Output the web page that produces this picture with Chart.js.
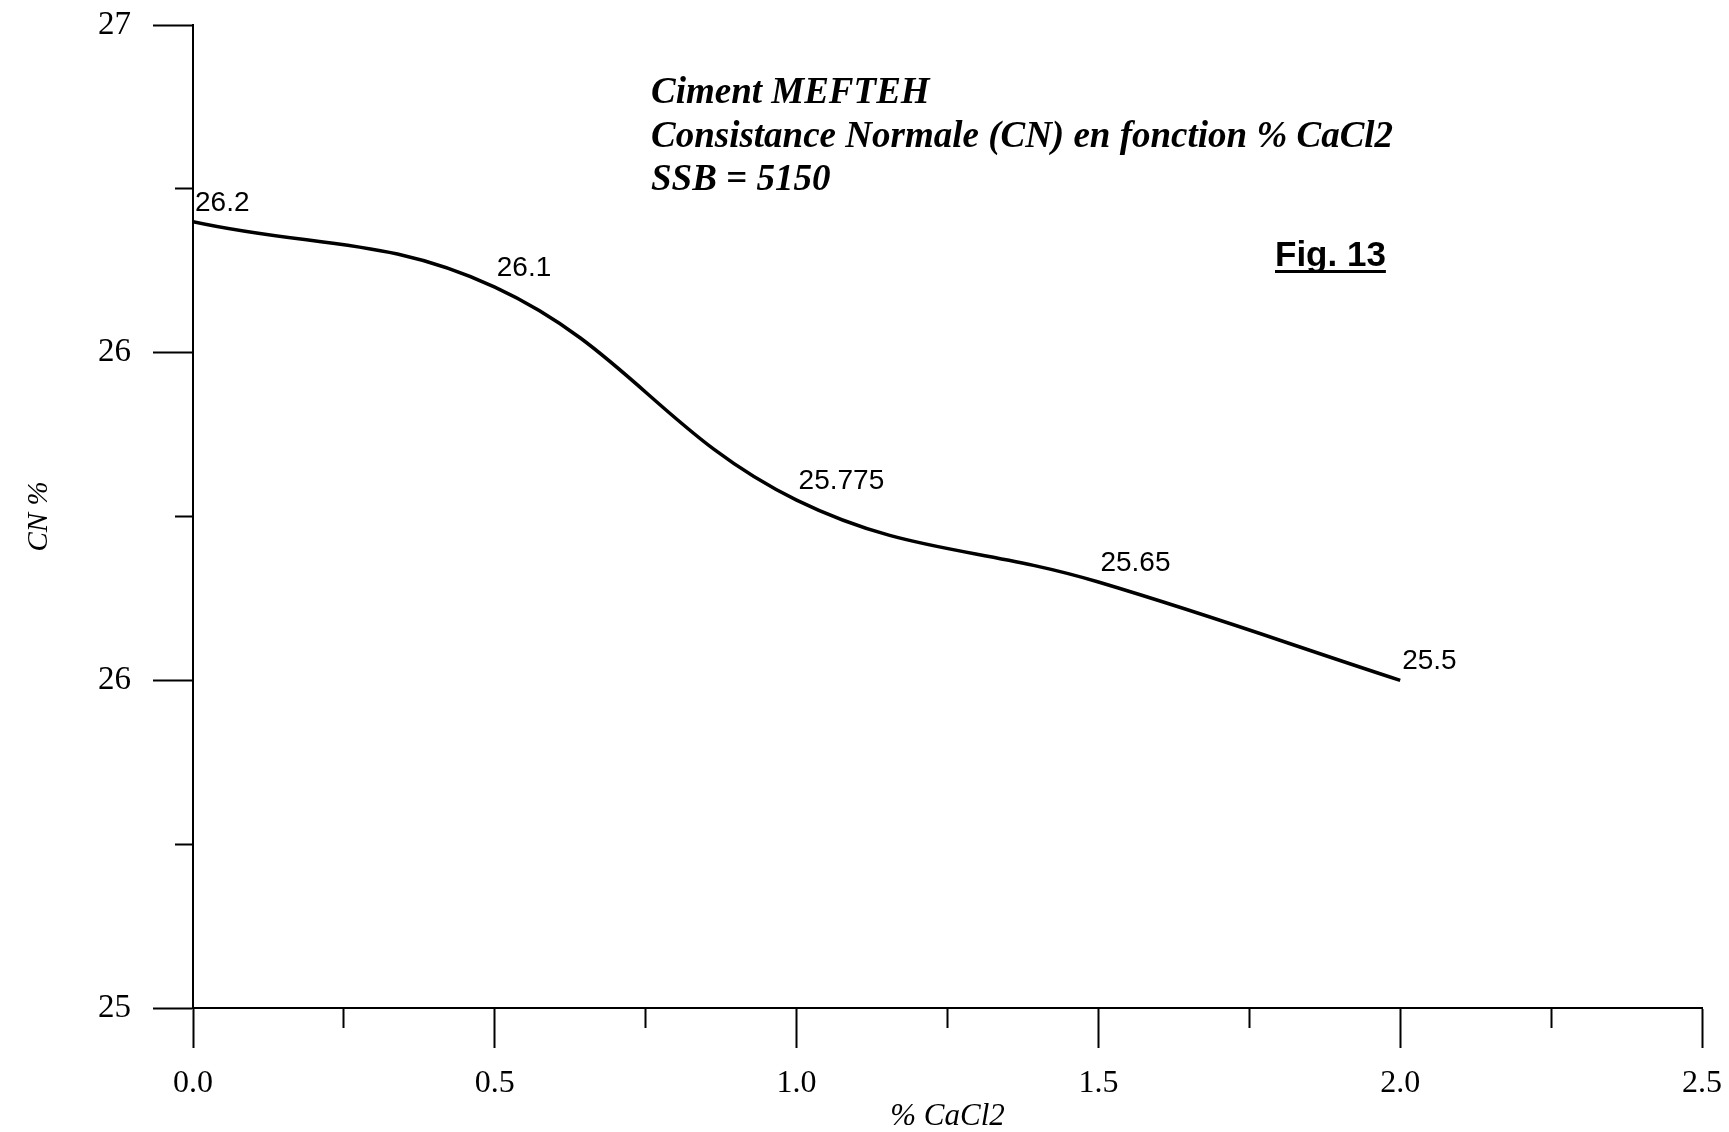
<!DOCTYPE html>
<html>
<head>
<meta charset="utf-8">
<script src="https://cdn.jsdelivr.net/npm/chart.js@4/dist/chart.umd.min.js"></script>
<style>
  html, body { margin: 0; padding: 0; background: #fff; }
  #wrap { width: 1729px; height: 1132px; }
</style>
</head>
<body>
<div id="wrap"><canvas id="c" width="1729" height="1132"></canvas></div>
<script>
// Normal consistency (CN %) against CaCl2 dosage
const caclPercent = [0.0, 0.5, 1.0, 1.5, 2.0];
const cnPercent = [26.2, 26.1, 25.775, 25.65, 25.5];

// Labelled ticks (minor ticks fall every 0.25 between them)
const xTickValues = [0.0, 0.5, 1.0, 1.5, 2.0, 2.5];
const xTickLabels = ['0.0', '0.5', '1.0', '1.5', '2.0', '2.5'];
const yTickValues = [25, 25.5, 26, 26.5];
const yTickLabels = ['25', '26', '26', '27'];

const titleLines = ['Ciment MEFTEH', 'Consistance Normale (CN) en fonction % CaCl2', 'SSB = 5150'];
const figureLabel = 'Fig. 13';

const SERIF = '"Liberation Serif", "Times New Roman", serif';
const SANS = '"Liberation Sans", Arial, sans-serif';

function labelFor(values, labels, v) {
  const i = values.findIndex(t => Math.abs(t - v) < 1e-6);
  return i < 0 ? '' : labels[i];
}
function isMajor(values, v) {
  return values.some(t => Math.abs(t - v) < 1e-6);
}

// Value labels written beside each measured point
const pointLabels = {
  id: 'pointLabels',
  afterDatasetsDraw(chart) {
    const ctx = chart.ctx;
    const meta = chart.getDatasetMeta(0);
    ctx.save();
    ctx.font = '28px ' + SANS;
    ctx.fillStyle = '#000';
    ctx.textAlign = 'left';
    ctx.textBaseline = 'alphabetic';
    meta.data.forEach((pt, i) => {
      ctx.fillText(String(cnPercent[i]), pt.x + 2, pt.y - 11);
    });
    ctx.restore();
  }
};

// Heading block and figure number
const headings = {
  id: 'headings',
  afterDraw(chart) {
    const ctx = chart.ctx;
    ctx.save();
    ctx.fillStyle = '#000';
    ctx.textAlign = 'left';
    ctx.textBaseline = 'alphabetic';
    ctx.font = 'italic bold 37px ' + SERIF;
    titleLines.forEach((t, i) => ctx.fillText(t, 651, 103 + i * 43.5));

    ctx.font = 'bold 35px ' + SANS;
    ctx.fillText(figureLabel, 1275, 266);
    const w = ctx.measureText(figureLabel).width;
    ctx.fillRect(1275, 270, w, 3);
    ctx.restore();
  }
};

const ctx = document.getElementById('c').getContext('2d');
new Chart(ctx, {
  type: 'scatter',
  data: {
    datasets: [{
      data: caclPercent.map((x, i) => ({ x: x, y: cnPercent[i] })),
      showLine: true,
      borderColor: '#000',
      borderWidth: 3.5,
      tension: 0.4,
      pointRadius: 0,
      fill: false
    }]
  },
  options: {
    responsive: false,
    animation: false,
    devicePixelRatio: 1,
    layout: { padding: { top: 25, right: 27, left: 0, bottom: 0 } },
    plugins: { legend: { display: false }, tooltip: { enabled: false } },
    scales: {
      x: {
        type: 'linear',
        position: 'bottom',
        min: 0, max: 2.5,
        afterFit(s) {
          s.height = 124;
          s.paddingLeft = 0;
          s.paddingRight = 0;
        },
        ticks: {
          stepSize: 0.25,
          autoSkip: false,
          maxRotation: 0,
          padding: 16,
          color: '#000',
          font: { family: SERIF, size: 32 },
          callback: v => labelFor(xTickValues, xTickLabels, v)
        },
        grid: {
          drawOnChartArea: false,
          drawTicks: true,
          tickLength: 40,
          tickWidth: 2,
          tickColor: '#000',
          tickBorderDash: c => isMajor(xTickValues, c.tick.value) ? [] : [19, 200]
        },
        border: { display: true, color: '#000', width: 2 },
        title: {
          display: true,
          text: '% CaCl2',
          color: '#000',
          font: { family: SERIF, size: 31, style: 'italic', lineHeight: 1 },
          padding: 0
        }
      },
      y: {
        type: 'linear',
        position: 'left',
        min: 25, max: 26.5,
        afterFit(s) {
          s.width = 193;
          s.paddingTop = 0;
          s.paddingBottom = 0;
        },
        ticks: {
          stepSize: 0.25,
          autoSkip: false,
          padding: 22,
          color: '#000',
          font: { family: SERIF, size: 33 },
          callback: v => labelFor(yTickValues, yTickLabels, v)
        },
        grid: {
          drawOnChartArea: false,
          drawTicks: true,
          tickLength: 40,
          tickWidth: 2,
          tickColor: '#000',
          tickBorderDash: c => isMajor(yTickValues, c.tick.value) ? [] : [0, 22, 18, 200]
        },
        border: { display: true, color: '#000', width: 2 },
        title: {
          display: true,
          text: 'CN %',
          color: '#000',
          font: { family: SERIF, size: 29, style: 'italic', lineHeight: 1.2 },
          padding: { top: 22, bottom: 0 }
        }
      }
    }
  },
  plugins: [pointLabels, headings]
});
</script>
</body>
</html>
